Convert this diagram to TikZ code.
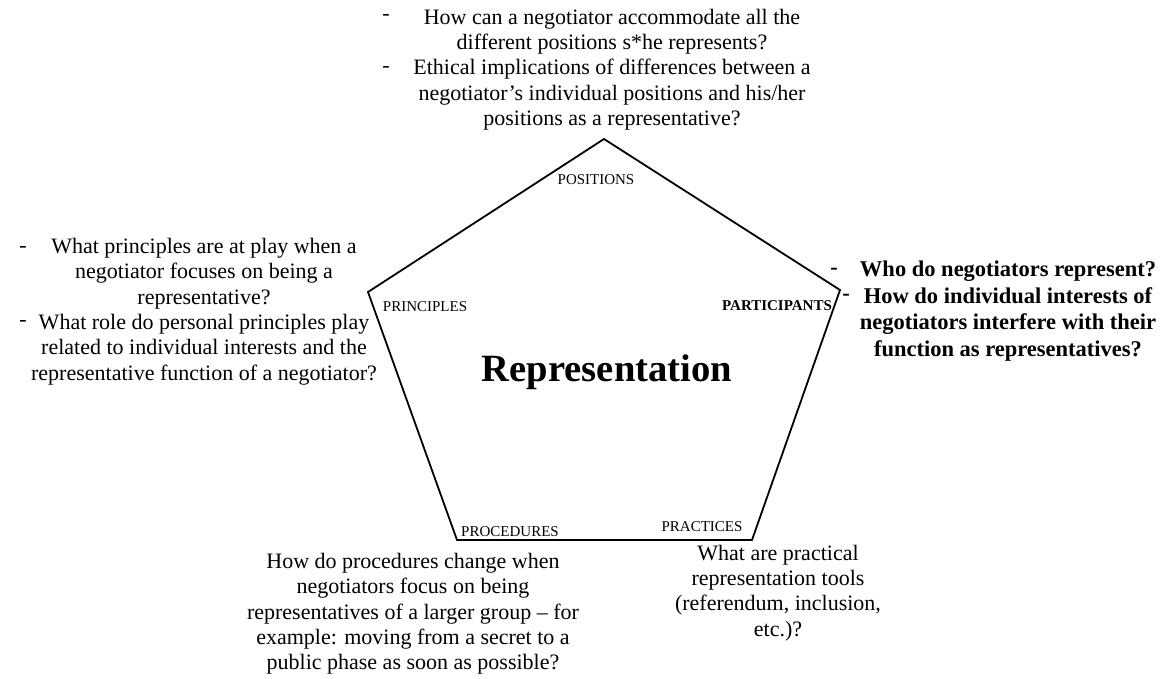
\documentclass[tikz,border=0pt]{standalone}
\usepackage{fontspec}
\setmainfont{Liberation Serif}
\begin{document}
\begin{tikzpicture}[x=1pt,y=-1pt,
  q/.style={align=center, inner sep=0pt, font=\fontsize{22}{25.3}\selectfont},
  qb/.style={align=center, inner sep=0pt, font=\fontsize{22.5}{26.5}\selectfont\bfseries},
  bullet/.style={inner sep=0pt, font=\fontsize{22}{25.3}\selectfont},
  bulletb/.style={inner sep=0pt, font=\fontsize{22.5}{26.5}\selectfont\bfseries},
  corner/.style={inner sep=0pt, font=\fontsize{15}{18}\selectfont},
  cornerb/.style={inner sep=0pt, font=\fontsize{15}{18}\selectfont\bfseries},
  edge/.style={line width=1.8pt, line join=miter}]
\useasboundingbox (0,0) rectangle (1164,679);

% pentagon corners
\coordinate (pT)  at (604,139);
\coordinate (pR)  at (840,290);
\coordinate (pBR) at (752,540);
\coordinate (pBL) at (457,540);
\coordinate (pL)  at (368,292);
\draw[edge] (pT) -- (pR) -- (pBR) -- (pBL) -- (pL) -- cycle;

% corner labels
\node[corner]  (lPos)  at (596,180) {POSITIONS};
\node[corner]  (lPrin) at (425,307) {PRINCIPLES};
\node[cornerb] (lPart) at (777,306) {PARTICIPANTS};
\node[corner]  (lProc) at (510,532) {PROCEDURES};
\node[corner]  (lPrac) at (702,527) {PRACTICES};

% centre title
\node[inner sep=0pt, font=\fontsize{38.6}{44}\selectfont\bfseries] (title) at (607,372) {Representation};

% questions: positions
\node[q] (qPos) at (612,69.5) {How can a negotiator accommodate all the\\
  different positions s*he represents?\\
  Ethical implications of differences between a\\
  negotiator’s individual positions and his/her\\
  positions as a representative?};
\node[bullet] (dPos1) at (386,18) {-};
\node[bullet] (dPos2) at (386,69) {-};

% questions: principles
\node[q] (qPrin) at (204,311.5) {What principles are at play when a\\
  negotiator focuses on being a\\
  representative?\\
  What role do personal principles play\\
  related to individual interests and the\\
  representative function of a negotiator?};
\node[bullet] (dPrin1) at (23,249) {-};
\node[bullet] (dPrin2) at (23,323) {-};

% questions: participants
\node[qb] (qPart) at (1008,311) {Who do negotiators represent?\\
  How do individual interests of\\
  negotiators interfere with their\\
  function as representatives?};
\node[bulletb] (dPart1) at (834,271) {-};
\node[bulletb] (dPart2) at (846,297) {-};

% questions: procedures
\node[q] (qProc) at (413,614) {How do procedures change when\\
  negotiators focus on being\\
  representatives of a larger group – for\\
  example: moving from a secret to a\\
  public phase as soon as possible?};

% questions: practices
\node[q] (qPrac) at (778,593) {What are practical\\
  representation tools\\
  (referendum, inclusion,\\
  etc.)?};
\end{tikzpicture}
\end{document}
